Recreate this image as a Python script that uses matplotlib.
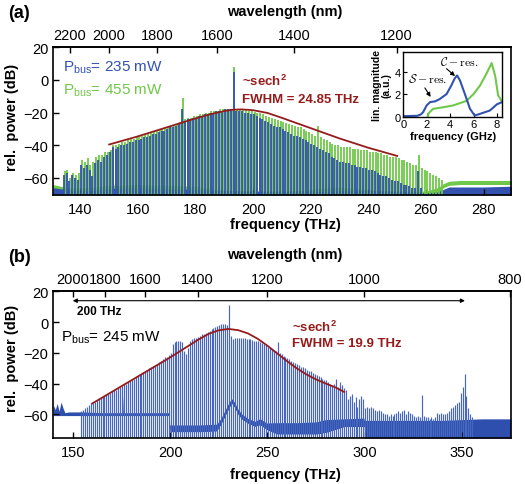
import numpy as np
import matplotlib.pyplot as plt

plt.rcParams['font.family'] = ['Liberation Sans', 'DejaVu Sans']
plt.rcParams['mathtext.fontset'] = 'custom'
plt.rcParams['mathtext.rm'] = 'Liberation Sans'
plt.rcParams['mathtext.it'] = 'Liberation Sans:italic'
plt.rcParams['mathtext.bf'] = 'Liberation Sans:bold'

C_NM_THZ = 299792.458
BLUE = '#3352b0'
GREEN = '#70c84a'
RED = '#961c1c'
BLUE_B = '#4666c0'
DARK_B = '#2f4fae'

# ---------------- panel (a) data ----------------
# comb line peaks (dB), one per comb line, 1 THz apart, first line at 134.2 THz
a_start = 134.2
a_blue = [-58, -57, -62, -58, -60, -61, -52, -54, -52, -55,
          -59, -51, -49, -50, -47, -46, -44, -41, -42, -41,
          -40, -40, -39, -38, -38, -37, -37, -36, -35, -35,
          -34, -33, -33, -32, -31, -31, -30, -29, -29, -28,
          -27, -18, -25, -24, -24, -23, -23, -22, -22, -21,
          -21, -20, -20, -19, -19, -19, -18, -18, -18, 5,
          -19, -19, -19, -20, -20, -21, -21, -22, -23, -24,
          -25, -26, -27, -28, -29, -29, -30, -31, -32, -33,
          -34, -34, -35, -36, -37, -38, -39, -40, -41, -42,
          -43, -44, -45, -47, -48, -49, -50, -50, -51, -51,
          -52, -52, -53, -53, -54, -54, -55, -55, -56, -57,
          -58, -59, -59, -60, -61, -62, -62, -63, -64, -64,
          -65, -66, -66, -56, -66]
a_green = [-56, -55, -60, -57, -58, -57, -49, -50, -48, -52,
           -50, -47, -46, -46, -44, -44, -43, -40, -40, -39,
           -38, -38, -37, -36, -36, -35, -34, -34, -33, -33,
           -32, -31, -31, -30, -30, -29, -29, -28, -28, -27,
           -26, -11, -24, -23, -23, -22, -22, -21, -21, -20,
           -20, -19, -19, -19, -18, -18, -18, -18, -18, 8,
           -18, -18, -18, -18.5, -19, -19, -19.5, -20, -20.5, -21,
           -22, -22.5, -23, -24, -24.5, -25, -26, -26.5, -27, -27.5,
           -28, -28.5, -29, -30, -31, -32, -33, -34, -28, -35,
           -36, -37, -38, -39, -40, -40, -41, -41, -41, -41,
           -42, -42, -42, -43, -43, -43, -44, -44, -44, -45,
           -45, -46, -46, -47, -47, -47, -48, -49, -49, -50,
           -51, -52, -52, -46, -54, -55, -56, -57, -58, -59, -60, -61]

# noise floors
a_gfloor_f = [130.5, 133, 136, 140, 145, 150, 160, 170, 180, 185, 190, 200, 210,
              218, 222, 228, 234, 240, 250, 260, 264, 266, 268, 272, 280, 290]
a_gfloor_top = [-64, -65, -66, -66, -65.5, -64.5, -64, -64.5, -65, -66.5, -67.5, -68, -68,
                -67.5, -66.5, -65.5, -66, -67, -68, -68, -66, -63.5, -62, -61.5, -61.5, -61.5]
a_gfloor_bot = [-70.4] * 21 + [-66, -64.5, -64, -64, -64]
a_bfloor_f = [130.5, 135, 140, 150, 160, 170, 180, 190, 200, 210, 220, 230, 240,
              250, 260, 264, 266, 268, 272, 280, 290]
a_bfloor_top = [-66, -67, -68, -66.5, -66, -66.5, -67, -67.5, -68, -68.5, -68.5, -68, -67.5,
                -68.5, -69, -68.5, -67, -65.5, -65.5, -65.5, -65]

# sech^2 envelope
a_fit_f = [150, 160, 170, 180, 185, 190, 193, 196, 200, 205, 210, 220, 230, 240, 250]
a_fit = [-39.5, -34.5, -29, -23.5, -21, -19, -18.2, -18, -18.5, -20.2, -23.2, -29.5, -35.8, -41.5, -46.5]

a_wl_ticks = [2200, 2000, 1800, 1600, 1400, 1200]
a_f_ticks = [140, 160, 180, 200, 220, 240, 260, 280]

# inset: RF beat spectra
in_f_blue = [0, 1.2, 1.5, 1.7, 2.0, 2.3, 2.7, 3.1, 3.7, 4.1, 4.4, 4.6, 4.85, 5.3, 5.7, 6.1, 6.55, 7.4, 8.0, 8.45]
in_blue = [0.05, 0.08, 0.2, 0.4, 1.0, 1.3, 1.35, 1.55, 2.0, 2.75, 3.4, 3.65, 3.2, 1.9, 0.7, 0.1, 0.25, 0.55, 1.1, 1.3]
in_f_green = [2.1, 2.14, 2.3, 2.56, 3.5, 4.27, 5.4, 6.0, 6.55, 7.1, 7.55, 7.85, 8.1, 8.45]
in_green = [0.02, 0.25, 0.45, 0.7, 0.85, 1.0, 1.4, 2.0, 2.75, 3.8, 4.75, 3.6, 1.9, 1.3]

# ---------------- panel (b) data ----------------
b_start = 154.3
b_comb = [-58, -57, -56, -55, -54, -53, -52.5, -52, -51, -50,
          -49.5, -48.5, -48, -47, -46.5, -46, -45, -44.5, -44, -43,
          -42, -41.5, -40.5, -40, -39, -38, -37.5, -37, -36, -35,
          -34, -33.5, -32.5, -32, -31, -30, -29.5, -28.5, -28, -27,
          -26, -25, -24, -23, -22.5, -21.5, -20, -14, -13, -12.5,
          -12, -12, -13, -19, -21, -17, -12, -11, -10.5, -10,
          -9.5, -9, -8, -7.5, -7, -6.5, -5.5, -4.5, -4, -3,
          -2.5, -2, -1.5, -1, -1.5, -2, 11, -9, -11, -10,
          -10, -10, -10.5, -10.5, -10.5, -11, -11, -11, -11.5, -12,
          -12, -12.5, -13, -13.5, -14, -15, -16, -17, -17.5, -18,
          -19, -13, -20, -21, -22, -23, -23.5, -24, -25, -26,
          -26.5, -27, -28, -29, -29.5, -30, -31, -31.5, -32, -33,
          -34, -34.5, -35, -36, -37, -37.5, -38, -39, -40, -41,
          -40, -37, -42, -39, -41, -43, -44, -50, -48, -47,
          -52, -49, -55, -50, -48, -50, -56, -55, -56, -55,
          -56, -57, -58, -57, -58, -59, -60, -60, -61, -60,
          -61, -60, -59, -58, -59, -58, -57, -60, -58, -59,
          -60, -61, -62, -61, -62, -47.5, -61, -62, -62, -63,
          -62, -63, -62, -59, -60, -59, -60, -60, -59, -58,
          -56, -55, -54, -53, -52, -46, -42, -34, -48, -56,
          -60, -62]

# noise-floor trace: upper and lower edge of the band (white below it)
b_floor_f = [140, 141, 142, 143, 144, 145, 146, 148, 155, 165, 175.7, 176, 176.3, 185, 195, 199.6,
             199.8, 205, 215, 224, 226, 228, 230, 231.6, 233, 235, 237, 240, 243.6, 246.2, 249.6,
             255, 265, 275, 280, 290, 299.6,
             299.8, 310, 320, 330, 340, 350, 360, 375]
b_floor_top = [-54, -57, -53, -58, -52, -56, -59, -58.5, -58.5, -59, -59, -48, -59, -59, -59, -59,
               -67, -67, -67, -66.5, -63, -58, -53, -49.8, -52, -57, -60, -62.8, -64.6, -62.9, -65.7,
               -65.5, -65.5, -65, -63.5, -63, -62.5,
               -64, -64, -64, -64, -64, -63.5, -63, -63]
b_floor_bot = [-61] * 16 + [-71.5, -71.5, -71.5, -71, -67, -62, -57, -53, -55.5, -60.5, -63.5,
                            -66, -68, -67, -70, -73, -73, -73, -72, -68, -68] + [-75.5] * 8

b_fit_f = [160, 170, 180, 190, 200, 210, 215, 220, 225, 230, 235, 240, 245, 250, 255, 260, 265,
           270, 275, 280, 285, 289.5]
b_fit = [-53, -45.5, -38, -30.5, -23, -15, -11, -7.5, -5.3, -4.4, -5.2, -7.3, -10.8, -15.3, -20.3,
         -25.3, -30, -34, -37.3, -40, -42.5, -45.5]

b_wl_ticks = [2000, 1800, 1600, 1400, 1200, 1000, 800]
b_f_ticks = [150, 200, 250, 300, 350]


def f2w(f):
    f = np.asarray(f, dtype=float)
    with np.errstate(divide='ignore'):
        return C_NM_THZ / f


def style_axes(ax, xt, wl_ticks):
    for s in ax.spines.values():
        s.set_linewidth(1.2)
    ax.set_xticks(xt)
    ax.set_yticks([20, 0, -20, -40, -60])
    ax.tick_params(direction='in', length=4, width=1, labelsize=10.5)
    ax.tick_params(axis='x', pad=5)
    ax.tick_params(axis='y', pad=3.5)
    sec = ax.secondary_xaxis('top', functions=(f2w, f2w))
    sec.set_xticks(wl_ticks)
    sec.tick_params(direction='in', length=4, width=1, labelsize=10.5, pad=3.5)
    sec.spines['top'].set_linewidth(1.2)


fig = plt.figure(figsize=(5.25, 4.85), dpi=100)

# ---------------- panel (a) ----------------
ax = fig.add_axes([0.1015, 0.5959, 0.8712, 0.3045])
ax.set_xlim(130.6, 289.4)
ax.set_ylim(-70.4, 20)
fa_g = a_start + 0.3 + np.arange(len(a_green))
fa_b = a_start + np.arange(len(a_blue))
ax.fill_between(a_gfloor_f, a_gfloor_bot, a_gfloor_top, color=GREEN, lw=0)
ax.vlines(fa_g, -70.4, a_green, color=GREEN, lw=1.3)
ax.fill_between(a_bfloor_f, -70.4, a_bfloor_top, color=BLUE, lw=0)
ax.vlines(fa_b, -70.4, a_blue, color=BLUE, lw=1.3)
ax.plot(a_fit_f, a_fit, color=RED, lw=1.3)
style_axes(ax, a_f_ticks, a_wl_ticks)

ax.text(134, 5.7, r'P$_{\mathrm{bus}}$= 235 mW', color=BLUE, fontsize=11, va='baseline')
ax.text(134, -8.1, r'P$_{\mathrm{bus}}$= 455 mW', color=GREEN, fontsize=11, va='baseline')
ax.text(196.1, -3.1, r'~sech$^{\mathbf{2}}$', color=RED, fontsize=9.5, weight='bold', va='baseline')
ax.text(196.1, -13.3, 'FWHM = 24.85 THz', color=RED, fontsize=9.5, weight='bold', va='baseline')

# inset
axi = fig.add_axes([0.768, 0.7573, 0.1886, 0.1328])
axi.plot(in_f_green, in_green, color=GREEN, lw=1.5)
axi.plot(in_f_blue, in_blue, color=BLUE, lw=1.5)
axi.set_xlim(0, 8.45)
axi.set_ylim(0, 5.7)
axi.set_xticks([0, 2, 4, 6, 8])
axi.set_yticks([0, 2, 4])
axi.tick_params(direction='in', length=3, width=0.8, labelsize=8, pad=2)
for s in axi.spines.values():
    s.set_linewidth(1.0)
axi.set_xlabel('frequency (GHz)', fontsize=8, weight='bold', labelpad=1)
axi.set_ylabel('lin. magnitude\n(a.u.)', fontsize=7.5, weight='bold', labelpad=2, linespacing=0.9)
axi.text(2.07, 3.35, r'$\mathcal{S}-\mathrm{res.}$', fontsize=8.5, ha='center', va='center',
         math_fontfamily='cm')
axi.text(4.75, 4.85, r'$\mathcal{C}-\mathrm{res.}$', fontsize=8.5, ha='center', va='center',
         math_fontfamily='cm')
axi.annotate('', xy=(2.34, 1.75), xytext=(1.85, 2.55),
             arrowprops=dict(arrowstyle='-|>', color='k', lw=0.8, mutation_scale=6,
                             shrinkA=0, shrinkB=0))
axi.annotate('', xy=(4.42, 3.6), xytext=(3.7, 4.25),
             arrowprops=dict(arrowstyle='-|>', color='k', lw=0.8, mutation_scale=6,
                             shrinkA=0, shrinkB=0))

# ---------------- panel (b) ----------------
bx = fig.add_axes([0.1015, 0.0948, 0.8712, 0.3037])
bx.set_xlim(140, 375)
bx.set_ylim(-75.5, 20.5)
fb = b_start + np.arange(len(b_comb))
bx.vlines(fb, -75.5, b_comb, color=BLUE_B, lw=0.85)
bx.fill_between(b_floor_f, b_floor_bot, b_floor_top, color=DARK_B, lw=0)
bx.fill_between(b_floor_f, -75.5, b_floor_bot, color='white', lw=0)
bx.plot(b_fit_f, b_fit, color=RED, lw=1.3)
style_axes(bx, b_f_ticks, b_wl_ticks)

bx.annotate('', xy=(150, 14), xytext=(351.5, 14),
            arrowprops=dict(arrowstyle='<|-|>', color='k', lw=0.8, mutation_scale=6,
                            shrinkA=0, shrinkB=0))
bx.text(152.2, 7.5, '200 THz', fontsize=8.5, weight='bold', va='center')
bx.text(144, -11.9, r'P$_{\mathrm{bus}}$= 245 mW', color='k', fontsize=11, va='baseline')
bx.text(262.4, -5.5, r'~sech$^{\mathbf{2}}$', color=RED, fontsize=9.5, weight='bold', va='baseline')
bx.text(262.4, -15.6, 'FWHM = 19.9 THz', color=RED, fontsize=9.5, weight='bold', va='baseline')

# outer labels
fig.text(8 / 525, 1 - 14 / 485, '(a)', fontsize=13, weight='bold', va='center')
fig.text(8 / 525, 1 - 257 / 485, '(b)', fontsize=13, weight='bold', va='center')
for yc in (12, 255):
    fig.text(285 / 525, 1 - yc / 485, 'wavelength (nm)', fontsize=10.5, weight='bold',
             ha='center', va='center')
for yc in (225, 475):
    fig.text(285 / 525, 1 - yc / 485, 'frequency (THz)', fontsize=10.5, weight='bold',
             ha='center', va='center')
for yc in (117, 358):
    fig.text(12.5 / 525, 1 - yc / 485, 'rel.  power (dB)', fontsize=10.5, weight='bold',
             ha='center', va='center', rotation=90)

fig.savefig('out.png', dpi=100)
